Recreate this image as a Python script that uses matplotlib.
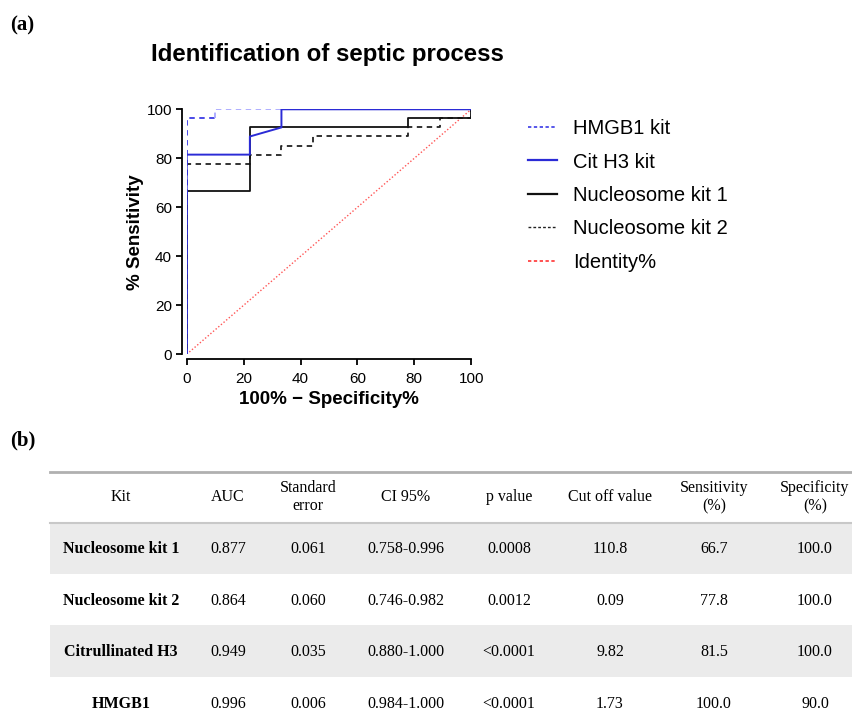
import matplotlib
matplotlib.use("Agg")
import matplotlib.pyplot as plt
from matplotlib.patches import Rectangle
from matplotlib.lines import Line2D

plt.rcParams["font.family"] = ["Liberation Sans", "DejaVu Sans"]

# ---- ROC data (100% - specificity, sensitivity) ----
hmgb1_x = [0, 0, 10, 10, 100]
hmgb1_y = [0, 96.3, 96.3, 100, 100]
cith3_x = [0, 0, 22.2, 22.2, 33.3, 33.3, 100]
cith3_y = [0, 81.5, 81.5, 88.9, 92.6, 100, 100]
nuc1_x = [0, 0, 22.2, 22.2, 77.8, 77.8, 100, 100]
nuc1_y = [0, 66.7, 66.7, 92.6, 92.6, 96.3, 96.3, 100]
nuc2_x = [0, 0, 22.2, 22.2, 33.3, 33.3, 44.4, 44.4, 77.8, 77.8, 88.9, 88.9, 100, 100]
nuc2_y = [0, 77.8, 77.8, 81.5, 81.5, 85.2, 85.2, 88.9, 88.9, 92.6, 92.6, 96.3, 96.3, 100]
ident_x = [0, 100]
ident_y = [0, 100]
xticks = [0, 20, 40, 60, 80, 100]
yticks = [0, 20, 40, 60, 80, 100]

# ---- Table data ----
col_headers = ["Kit", "AUC", "Standard\nerror", "CI 95%", "p value", "Cut off value",
               "Sensitivity\n(%)", "Specificity\n(%)"]
kits = ["Nucleosome kit 1", "Nucleosome kit 2", "Citrullinated H3", "HMGB1"]
auc = ["0.877", "0.864", "0.949", "0.996"]
std_err = ["0.061", "0.060", "0.035", "0.006"]
ci95 = ["0.758-0.996", "0.746-0.982", "0.880-1.000", "0.984-1.000"]
p_value = ["0.0008", "0.0012", "<0.0001", "<0.0001"]
cutoff = ["110.8", "0.09", "9.82", "1.73"]
sensitivity = ["66.7", "77.8", "81.5", "100.0"]
specificity = ["100.0", "100.0", "100.0", "90.0"]

W, H = 853, 720
fig = plt.figure(figsize=(W / 100, H / 100), dpi=100)

def fx(px):
    return px / W

def fy(py):
    return 1 - py / H

# ---- ROC axes ----
ax = fig.add_axes([fx(186.7), fy(354.3), fx(471.2) - fx(186.7), fy(109.3) - fy(354.3)])
ax.plot(ident_x, ident_y, color="#ff5555", lw=1.0, ls=(0, (1, 1.5)), label="Identity%", zorder=1)
ax.plot(nuc2_x, nuc2_y, color="#222222", lw=1.3, ls=(0, (3, 2.5)), label="Nucleosome kit 2", zorder=2)
ax.plot(nuc1_x, nuc1_y, color="#111111", lw=1.3, ls="-", label="Nucleosome kit 1", zorder=3)
ax.plot(hmgb1_x[:3], hmgb1_y[:3], color="#3a3ae6", lw=1.3, ls=(0, (3, 2.5)), zorder=4)
ax.plot(hmgb1_x[2:], hmgb1_y[2:], color="#a8a8ff", lw=1.3, ls=(0, (3, 2.5)), zorder=4)
ax.plot(cith3_x, cith3_y, color="#2b2bd6", lw=1.4, ls="-", label="Cit H3 kit", zorder=5)
ax.set_xlim(0, 100)
ax.set_ylim(0, 100)
ax.set_xticks(xticks)
ax.set_yticks(yticks)
for s in ["top", "right"]:
    ax.spines[s].set_visible(False)
for s in ["left", "bottom"]:
    ax.spines[s].set_position(("outward", 3.5))
    ax.spines[s].set_linewidth(1.3)
ax.tick_params(axis="both", labelsize=11, width=1.3, length=4.5, pad=2.5)
ax.tick_params(axis="x", pad=5)
ax.set_xlabel("100% \u2212 Specificity%", fontsize=13.5, fontweight="bold", labelpad=3)
ax.set_ylabel("% Sensitivity", fontsize=13.5, fontweight="bold", labelpad=2)
fig.text(fx(327), fy(55), "Identification of septic process", fontsize=17.3,
         fontweight="bold", ha="center", va="center")

handles = [
    Line2D([], [], color="#3a3ae6", lw=1.2, ls=(0, (2, 1.5))),
    Line2D([], [], color="#2b2bd6", lw=1.6, ls="-"),
    Line2D([], [], color="#111111", lw=1.6, ls="-"),
    Line2D([], [], color="#222222", lw=1.0, ls=(0, (2, 1.5))),
    Line2D([], [], color="#ff3333", lw=1.2, ls=(0, (2, 1.5))),
]
labels = ["HMGB1 kit", "Cit H3 kit", "Nucleosome kit 1", "Nucleosome kit 2", "Identity%"]
fig.legend(handles, labels, loc="upper left", bbox_to_anchor=(fx(528), fy(119)),
           frameon=False, fontsize=14.5, handlelength=1.45, handletextpad=0.8,
           labelspacing=0.72, borderaxespad=0, borderpad=0)

# ---- Panel labels ----
fig.text(fx(10), fy(25), "(a)", fontsize=15, family="Liberation Serif", fontweight="bold",
         va="center", ha="left")
fig.text(fx(10), fy(440), "(b)", fontsize=15, family="Liberation Serif", fontweight="bold",
         va="center", ha="left")

# ---- Table ----
serif = "Liberation Serif"
left, right = 50, 853
row_tops = [522, 574, 625, 677]
row_bots = [574, 625, 677, 720]
row_text_y = [549, 601, 652, 704]
col_x = [121, 228, 308, 406, 509, 610, 714, 815]
for i, (t, b) in enumerate(zip(row_tops, row_bots)):
    if i % 2 == 0:
        fig.patches.append(Rectangle((fx(left), fy(b)), fx(right) - fx(left), fy(t) - fy(b),
                                     transform=fig.transFigure, facecolor="#ebebeb",
                                     edgecolor="none", zorder=0))
fig.add_artist(Line2D([fx(left), fx(right)], [fy(472), fy(472)], color="#b0b0b0", lw=2.0))
fig.add_artist(Line2D([fx(left), fx(right)], [fy(522.5), fy(522.5)], color="#c8c8c8", lw=1.5))

for x, h in zip(col_x, col_headers):
    fig.text(fx(x), fy(497), h, fontsize=11.5, family=serif, ha="center", va="center",
             linespacing=1.2)

columns = [kits, auc, std_err, ci95, p_value, cutoff, sensitivity, specificity]
for j, (x, col) in enumerate(zip(col_x, columns)):
    for y, v in zip(row_text_y, col):
        fig.text(fx(x), fy(y), v, fontsize=11.5, family=serif, ha="center", va="center",
                 fontweight="bold" if j == 0 else "normal")

fig.savefig("out.png", dpi=100)
